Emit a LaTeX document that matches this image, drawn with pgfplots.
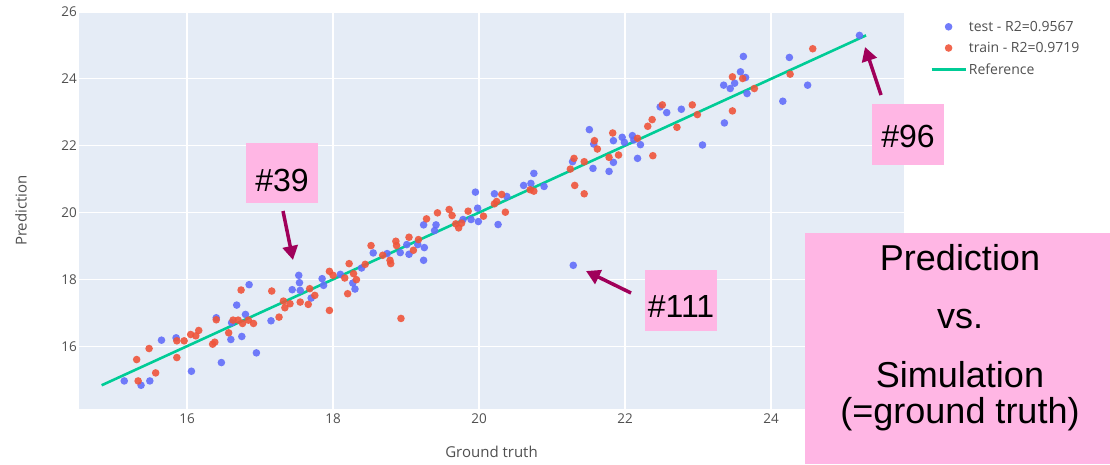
\documentclass[border=0pt]{standalone}
\usepackage{pgfplots}
\pgfplotsset{compat=1.18}
\usepackage{fontspec}
\setmainfont{Open Sans}
\newfontfamily\notefont{Liberation Sans}
\usetikzlibrary{arrows.meta}

\definecolor{plotbg}{HTML}{E5ECF6}
\definecolor{testc}{HTML}{636EFA}
\definecolor{trainc}{HTML}{EF553B}
\definecolor{refc}{HTML}{00CC96}
\definecolor{tickc}{HTML}{505050}
\definecolor{notebg}{RGB}{255,182,228}
\definecolor{arrowc}{RGB}{160,0,90}

\pgfplotsset{
  dotlegend/.style={legend image code/.code={\draw[mark repeat=2,mark phase=2,##1] plot coordinates {(0pt,0pt) (17pt,0pt) (34pt,0pt)};}},
  linelegend/.style={legend image code/.code={\draw[##1] (0pt,0pt) -- (34pt,0pt);}},
}

\begin{document}
\begin{tikzpicture}
\useasboundingbox (0pt,0pt) rectangle (1110pt,464pt);
\begin{axis}[
  at={(79pt,55pt)}, anchor=south west,
  width=825pt, height=397pt, scale only axis,
  xmin=14.52, xmax=25.82, ymin=14.12, ymax=26,
  axis background/.style={fill=plotbg},
  axis line style={draw=none},
  xtick={16,18,...,24}, ytick={16,18,...,26},
  grid=major, grid style={white, line width=1.3pt},
  major tick length=0pt,
  /pgf/number format/assume math mode=true,
  ticklabel style={font=\fontsize{13.5}{15}\selectfont, text=tickc},
  xticklabel style={anchor=north, inner sep=0pt, yshift=-5pt},
  yticklabel style={anchor=east, inner sep=0pt, xshift=-2pt},
  xlabel={Ground truth}, ylabel={Prediction},
  label style={font=\fontsize{15}{16}\selectfont, text=tickc},
  xlabel style={at={(axis description cs:0.5,-0.108)}, anchor=center},
  ylabel style={at={(axis description cs:-0.0703,0.5)}, anchor=center},
  clip=false,
  legend style={at={(axis description cs:1.028,0.988)}, anchor=north west,
    draw=none, fill=none, font=\fontsize{14}{16}\selectfont, text=tickc,
    row sep=5.5pt},
  legend cell align=left,
]
% test set predictions
\addplot[color=testc, only marks, mark=*, mark size=3.8pt,
  mark options={fill=testc, draw opacity=0, fill opacity=0.9}, dotlegend]
table {
x y
15.14 14.96
15.37 14.83
15.49 14.96
15.65 16.18
15.85 16.25
16.06 15.25
16.40 16.85
16.47 15.51
16.60 16.20
16.61 16.70
16.68 17.23
16.75 16.29
16.80 16.95
16.85 17.84
16.95 15.80
17.15 16.76
17.44 17.69
17.53 18.12
17.54 17.90
17.55 17.67
17.70 17.44
17.85 18.02
17.87 17.82
18.10 18.15
18.27 17.89
18.30 17.71
18.39 18.34
18.55 18.79
18.74 18.77
18.92 18.80
19.01 19.04
19.04 18.75
19.16 19.04
19.24 18.57
19.25 18.95
19.24 19.63
19.39 19.46
19.41 19.63
19.78 19.79
19.89 19.79
19.95 20.61
19.98 20.13
19.99 19.73
20.21 20.56
20.26 19.64
20.38 20.48
20.61 20.81
20.71 20.87
20.75 21.17
20.89 20.78
21.28 21.52
21.29 18.42
21.51 22.48
21.56 21.32
21.57 22.05
21.78 21.23
21.84 21.50
21.84 22.15
21.96 22.25
21.99 22.10
22.10 22.30
22.12 22.17
22.17 21.62
22.21 22.03
22.48 23.16
22.57 22.99
22.77 23.09
23.06 22.02
23.35 23.81
23.36 22.68
23.44 23.71
23.50 23.87
23.58 24.21
23.62 24.67
23.65 24.04
23.67 23.56
24.16 23.33
24.25 24.64
24.50 23.81
25.21 25.30
};
\addlegendentry{test - R2=0.9567}
% training set predictions
\addplot[color=trainc, only marks, mark=*, mark size=3.8pt,
  mark options={fill=trainc, draw opacity=0, fill opacity=0.9}, dotlegend]
table {
x y
15.31 15.60
15.33 14.96
15.48 15.93
15.57 15.20
15.86 16.16
15.86 15.66
15.96 16.16
16.05 16.35
16.12 16.31
16.16 16.47
16.35 16.06
16.38 16.12
16.40 16.79
16.57 16.40
16.63 16.78
16.70 16.78
16.74 17.68
16.76 16.68
16.84 16.78
16.91 16.68
17.16 17.65
17.26 16.87
17.32 17.35
17.34 17.15
17.41 17.27
17.55 17.32
17.66 17.25
17.68 17.72
17.75 17.52
17.95 17.07
17.95 18.24
18.00 18.12
18.16 18.04
18.20 17.57
18.22 18.47
18.28 18.17
18.32 17.99
18.44 18.45
18.52 19.01
18.68 18.72
18.78 18.57
18.79 18.47
18.86 19.14
18.87 19.01
18.93 16.83
19.04 19.26
19.10 18.87
19.17 19.19
19.28 19.81
19.43 19.99
19.59 20.09
19.63 19.91
19.68 19.66
19.72 19.54
19.76 19.68
19.85 20.04
20.06 19.89
20.21 20.26
20.24 20.33
20.31 20.54
20.36 20.01
20.70 20.68
20.75 20.64
21.25 21.30
21.30 21.62
21.31 20.81
21.44 21.52
21.44 20.56
21.58 22.15
21.62 21.90
21.78 21.65
21.83 22.38
21.91 21.72
22.17 22.22
22.31 22.58
22.37 22.78
22.38 21.70
22.51 23.22
22.71 22.55
22.92 23.22
22.99 22.93
23.47 24.06
23.47 23.04
23.61 24.01
23.77 23.71
24.26 24.14
24.57 24.90
};
\addlegendentry{train - R2=0.9719}
% identity reference line
\addplot[refc, line width=2.6pt, linelegend]
coordinates {(14.83,14.83) (25.3,25.3)};
\addlegendentry{Reference}
\end{axis}

% callouts
\fill[notebg] (246pt,261pt) rectangle (318pt,321pt);
\node[anchor=base, font=\notefont\fontsize{32}{34}\selectfont] at (282pt,272pt) {\#39};
\draw[arrowc, line width=3.5pt, -{Triangle[length=14pt,width=15pt]}] (283pt,253pt) -- (293pt,204pt);

\fill[notebg] (872pt,299pt) rectangle (944pt,360pt);
\node[anchor=base, font=\notefont\fontsize{32}{34}\selectfont] at (908pt,316pt) {\#96};
\draw[arrowc, line width=3.5pt, -{Triangle[length=14pt,width=15pt]}] (881pt,369pt) -- (865pt,417pt);

\fill[notebg] (645pt,133pt) rectangle (717pt,194pt);
\node[anchor=base, font=\notefont\fontsize{32}{34}\selectfont] at (681pt,147pt) {\#111};
\draw[arrowc, line width=3.5pt, -{Triangle[length=14pt,width=15pt]}] (631pt,171pt) -- (586pt,193pt);

\fill[notebg] (805pt,0pt) rectangle (1110pt,231pt);
\begin{scope}[every node/.style={anchor=base, font=\notefont\fontsize{36}{38}\selectfont}]
\node at (960pt,194pt) {Prediction};
\node at (960pt,136pt) {vs.};
\node at (960pt,77pt) {Simulation};
\node at (960pt,41pt) {(=ground truth)};
\end{scope}
\end{tikzpicture}
\end{document}
